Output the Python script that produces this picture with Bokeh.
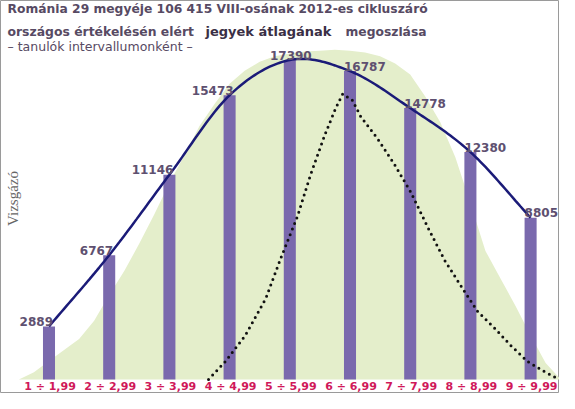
import numpy as np
from bokeh.plotting import figure
from bokeh.models import ColumnDataSource, Range1d, Label
from bokeh.core.properties import value
from bokeh.embed import file_html
from bokeh.resources import INLINE

# ---------------- data ----------------
categories = ["1 ÷ 1,99", "2 ÷ 2,99", "3 ÷ 3,99", "4 ÷ 4,99", "5 ÷ 5,99",
              "6 ÷ 6,99", "7 ÷ 7,99", "8 ÷ 8,99", "9 ÷ 9,99"]
counts = [2889, 6767, 11146, 15473, 17390, 16787, 14778, 12380, 8805]

# light green background bell (category units / count units)
green_x = [0.50, 0.75, 1.00, 1.25, 1.50, 1.75, 2.00, 2.25, 2.50, 2.75, 3.00, 3.25,
           3.50, 3.75, 4.00, 4.25, 4.50, 4.75, 5.00, 5.25, 5.50, 5.75, 6.00, 6.25,
           6.50, 6.75, 7.00, 7.25, 7.50, 7.75, 8.00, 8.25, 8.50, 8.75, 9.00, 9.25, 9.50]
green_y = [0, 400, 1000, 1600, 2200, 3200, 4600, 5900, 7400, 9000, 10700, 12200,
           13800, 15000, 16100, 16800, 17300, 17600, 17750, 17850, 17900, 17950, 17900, 17800,
           17600, 17200, 16600, 15400, 14000, 12100, 9600, 7000, 5500, 4000, 2400, 900, 0]

# dotted curve
dotted_x = [3.65, 3.93, 4.26, 4.60, 4.85, 5.13, 5.34, 5.58, 5.76, 5.88, 6.04, 6.18,
            6.46, 6.74, 7.01, 7.29, 7.57, 7.90, 8.12, 8.40, 8.67, 8.95, 9.23, 9.45]
dotted_y = [0, 980, 2400, 4400, 6600, 8900, 11100, 13300, 14750, 15550, 15200, 14300,
            13100, 11700, 10200, 8300, 6500, 4800, 3700, 2800, 1850, 980, 430, 50]

title_line1 = "Románia 29 megyéje 106 415 VIII-osának 2012-es cikluszáró"
title_line2a = "országos értékelésén elért"
title_line2b = "jegyek átlagának"
title_line2c = "megoszlása"
subtitle = "– tanulók intervallumonként –"
y_label = "Vizsgázó"

# ---------------- styling ----------------
BAR_COLOR = "#7a69ad"
GREEN = "#e4eecb"
NAVY = "#1b1b78"
TITLE_COLOR = "#574a63"
EMPH_COLOR = "#3a2f45"
VAL_COLOR = "#5e5070"
CAT_COLOR = "#d0185a"
CAT_LABEL_Y = -360

xs = np.arange(1, len(counts) + 1, dtype=float)

p = figure(width=559, height=393,
           x_range=Range1d(0.1944, 9.480), y_range=Range1d(-763, 20631),
           output_backend="svg", toolbar_location=None,
           x_axis_location=None, y_axis_location=None, min_border=0)
p.grid.visible = False
p.outline_line_color = "#9a9a9a"
p.outline_line_width = 1
p.background_fill_color = "white"

# green bell
p.patch(green_x, green_y, fill_color=GREEN, line_color=None)

# bars
p.vbar(x=xs, top=counts, bottom=0, width=0.2, fill_color=BAR_COLOR, line_color=None)

# dotted curve
p.line(dotted_x, dotted_y, line_color="#111111", line_width=3,
       line_dash="0 6", line_cap="round")

# smooth curve through bar tops (Catmull-Rom rendering of the data)
def catmull_rom(x, y, n=24):
    P = np.column_stack([x, y]).astype(float)
    P = np.vstack([2 * P[0] - P[1], P, 2 * P[-1] - P[-2]])
    out = []
    for i in range(1, len(P) - 2):
        p0, p1, p2, p3 = P[i - 1], P[i], P[i + 1], P[i + 2]
        for t in np.linspace(0, 1, n, endpoint=False):
            t2, t3 = t * t, t * t * t
            pt = 0.5 * ((2 * p1) + (-p0 + p2) * t +
                        (2 * p0 - 5 * p1 + 4 * p2 - p3) * t2 +
                        (-p0 + 3 * p1 - 3 * p2 + p3) * t3)
            out.append(pt)
    out.append(P[-2])
    out = np.array(out)
    return out[:, 0], out[:, 1]

cx, cy = catmull_rom(xs, counts)
p.line(cx, cy, line_color=NAVY, line_width=2.5)

# value labels
imax = int(np.argmax(counts))
aligns = ["right" if i < imax else ("center" if i == imax else "left") for i in range(len(counts))]
offs = [4 if a == "right" else (1 if a == "center" else -6) for a in aligns]
vsrc = ColumnDataSource(dict(x=xs, y=counts, text=[str(c) for c in counts],
                             align=aligns, off=offs))
p.text(x="x", y="y", text="text", source=vsrc, text_align="align", x_offset="off",
       y_offset=-5, text_baseline="alphabetic",
       text_font=value("DejaVu Sans"), text_font_style="bold",
       text_font_size="12px", text_color=VAL_COLOR)

# category labels
csrc = ColumnDataSource(dict(x=xs, y=[CAT_LABEL_Y] * len(xs), text=categories))
p.text(x="x", y="y", text="text", source=csrc, text_align="center",
       text_baseline="middle", x_offset=1,
       text_font=value("DejaVu Sans"), text_font_style="bold",
       text_font_size="11px", text_color=CAT_COLOR)

# titles
def add_label(text, x, y, size, color, style="bold", font="DejaVu Sans"):
    p.add_layout(Label(x=x, y=y, x_units="screen", y_units="screen", text=text,
                       text_font=font, text_font_size=size, text_font_style=style,
                       text_color=color, text_baseline="middle", text_align="left"))

add_label(title_line1, 7, 385, "12.3px", TITLE_COLOR)
add_label(title_line2a, 7, 362, "12.4px", TITLE_COLOR)
add_label(title_line2b, 205, 362, "13px", EMPH_COLOR)
add_label(title_line2c, 345, 362, "12.3px", TITLE_COLOR)
add_label(subtitle, 7, 347, "12.5px", TITLE_COLOR, style="normal")

p.add_layout(Label(x=12, y=195, x_units="screen", y_units="screen", text=y_label,
                   angle=np.pi / 2, text_align="center", text_baseline="middle",
                   text_font="Liberation Serif", text_font_size="15px",
                   text_color="#666666"))

open("out.html", "w").write(file_html(p, INLINE))
